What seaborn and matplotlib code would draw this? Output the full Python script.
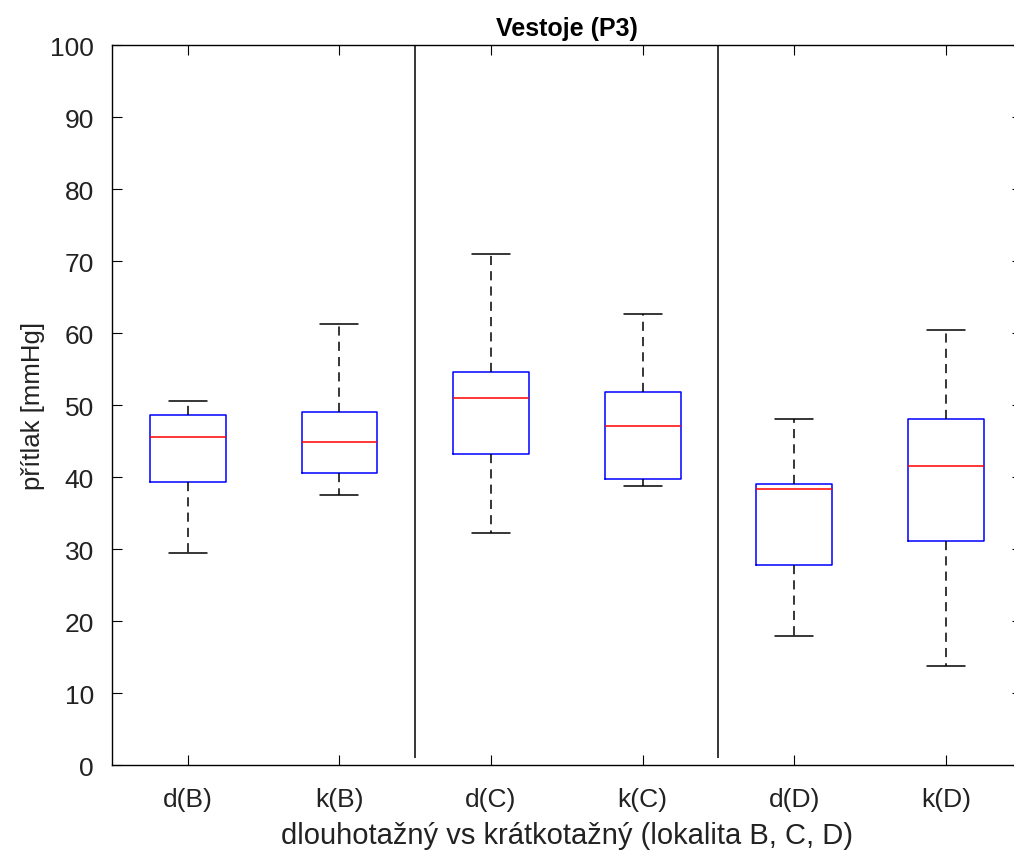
import pandas as pd
import numpy as np
import matplotlib.pyplot as plt
import seaborn as sns

# skupiny na ose x
categories = ['d(B)', 'k(B)', 'd(C)', 'k(C)', 'd(D)', 'k(D)']

# min, Q1, median, Q3, max
d_B = [29.5, 39.3, 45.6, 48.6, 50.5]
k_B = [37.5, 40.6, 44.9, 49.0, 61.3]
d_C = [32.3, 43.2, 51.0, 54.6, 71.0]
k_C = [38.7, 39.8, 47.1, 51.8, 62.7]
d_D = [17.9, 27.8, 38.3, 39.1, 48.0]
k_D = [13.8, 31.1, 41.6, 48.1, 60.4]

values = [d_B, k_B, d_C, k_C, d_D, k_D]
df = pd.DataFrame({
    'skupina': np.repeat(categories, [len(v) for v in values]),
    'pritlak': np.concatenate(values),
})

sns.set_theme(style='ticks')
plt.rcParams['font.family'] = ['Liberation Sans', 'DejaVu Sans']
plt.rcParams['text.color'] = '#222222'
plt.rcParams['axes.labelcolor'] = '#222222'

fig = plt.figure(figsize=(10.14, 8.54), dpi=100)
ax = fig.add_axes([0.1105, 0.103, 0.897, 0.843])

sns.boxplot(data=df, x='skupina', y='pritlak', order=categories, ax=ax,
            width=0.5, whis=(0, 100), fill=False, linecolor='black', linewidth=1.1,
            boxprops=dict(color='blue'),
            medianprops=dict(color='red'),
            whiskerprops=dict(color='black', linestyle=(0, (6, 4))),
            capprops=dict(color='black'))

# oddělení lokalit
ax.vlines([1.5, 3.5], 1, 100, color='black', linewidth=1.1)

ax.set_ylim(0, 100)
ax.set_xlim(-0.5, 5.5)
ax.set_yticks(np.arange(0, 101, 10))
ax.tick_params(direction='in', top=True, right=True, length=7, width=0.8,
               labelsize=19, colors='black', labelcolor='#222222')
ax.tick_params(axis='x', pad=16)
ax.tick_params(axis='y', pad=13)
for s in ax.spines.values():
    s.set_visible(True)
    s.set_color('black')
    s.set_linewidth(1)

ax.set_title('Vestoje (P3)', fontsize=18, fontweight='bold', pad=7, color='black')
ax.set_xlabel('dlouhotažný vs krátkotažný (lokalita B, C, D)', fontsize=21, labelpad=7)
ax.set_ylabel('přítlak [mmHg]', fontsize=18.5, labelpad=4)

fig.savefig('out.png', dpi=100)
